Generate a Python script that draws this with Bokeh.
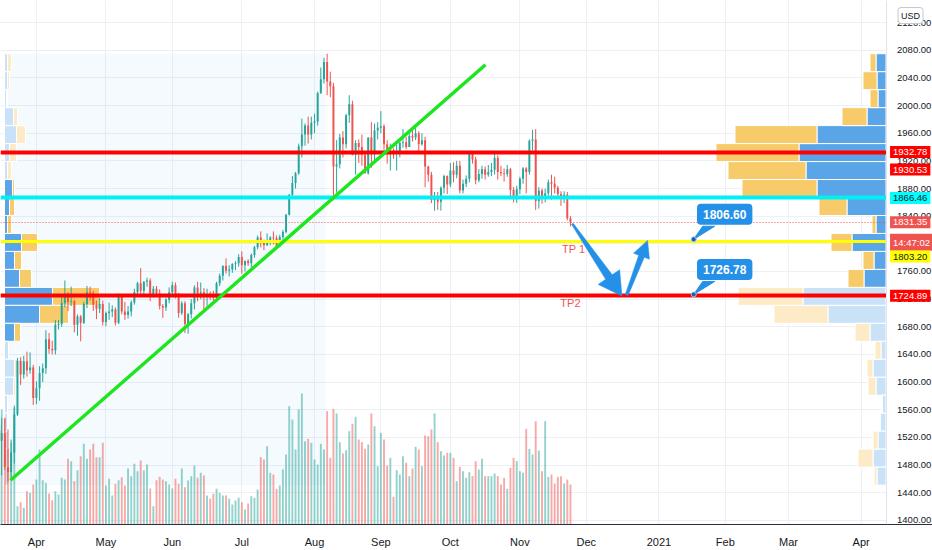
import numpy as np
import pandas as pd
from bokeh.plotting import figure
from bokeh.models import Range1d, FixedTicker, Label, PrintfTickFormatter, ColumnDataSource
from bokeh.embed import file_html
from bokeh.resources import INLINE

# ---------------- DATA (XAUUSD daily, 16 Mar 2020 - 24 Nov 2020) ----------------
open_ = [
    # Mar
    1530, 1515, 1526, 1477, 1470, 1498, 1553, 1631, 1611, 1630, 1617, 1621,
    # Apr
    1577, 1591, 1613, 1620, 1662, 1648, 1646, 1683, 1684, 1714, 1727, 1716, 1717, 1683, 1695, 1686, 1713, 1730, 1728, 1712, 1706, 1713,
    # May
    1687, 1700, 1702, 1705, 1686, 1725, 1702, 1697, 1702, 1715, 1730, 1743, 1732, 1745, 1747, 1726, 1735, 1728, 1710, 1708, 1719,
    # Jun
    1730, 1740, 1727, 1700, 1714, 1684, 1698, 1714, 1737, 1728, 1730, 1725, 1727, 1726, 1722, 1743, 1754, 1768, 1761, 1763, 1771, 1772,
    # Jul
    1781, 1769, 1775, 1772, 1784, 1795, 1809, 1803, 1798, 1802, 1809, 1808, 1796, 1810, 1817, 1842, 1871, 1888, 1902, 1941, 1958, 1971, 1958,
    # Aug
    1975, 1977, 2018, 2038, 2063, 2035, 2028, 1912, 1915, 1954, 1944, 1986, 2002, 1929, 1946, 1940, 1929, 1902, 1954, 1930, 1964,
    # Sep
    1968, 1970, 1944, 1931, 1933, 1931, 1932, 1946, 1947, 1940, 1956, 1954, 1960, 1944, 1950, 1912, 1900, 1863, 1868, 1861, 1881, 1898,
    # Oct
    1886, 1906, 1900, 1913, 1877, 1887, 1894, 1930, 1922, 1892, 1901, 1908, 1900, 1904, 1907, 1924, 1904, 1902, 1901, 1908, 1878, 1867,
    # Nov
    1879, 1894, 1909, 1904, 1949, 1951, 1862, 1877, 1866, 1873, 1889, 1887, 1881, 1872, 1866, 1871, 1837,
]
high = [
    1575, 1548, 1547, 1504, 1517, 1566, 1635, 1636, 1638, 1644, 1643, 1625,
    1601, 1623, 1627, 1675, 1671, 1660, 1690, 1690, 1725, 1747, 1730, 1738, 1719, 1698, 1697, 1716, 1739, 1738, 1732, 1718, 1722, 1718,
    1702, 1715, 1711, 1708, 1728, 1727, 1716, 1710, 1718, 1735, 1745, 1765, 1746, 1751, 1750, 1739, 1739, 1734, 1713, 1722, 1737,
    1745, 1744, 1729, 1717, 1717, 1700, 1720, 1740, 1745, 1744, 1736, 1735, 1731, 1732, 1745, 1757, 1769, 1779, 1769, 1772, 1775, 1785,
    1789, 1776, 1778, 1786, 1797, 1812, 1818, 1806, 1815, 1811, 1818, 1812, 1813, 1820, 1843, 1872, 1898, 1904, 1945, 1981, 1974, 1984, 1984,
    1988, 2020, 2055, 2069, 2075, 2049, 2033, 1950, 1959, 1963, 1988, 2015, 2007, 1950, 1951, 1958, 1933, 1954, 1976, 1974, 1976,
    1992, 1973, 1950, 1945, 1938, 1943, 1952, 1966, 1955, 1960, 1966, 1973, 1963, 1960, 1955, 1913, 1904, 1875, 1875, 1883, 1900, 1899,
    1917, 1918, 1920, 1920, 1893, 1899, 1933, 1932, 1926, 1908, 1913, 1912, 1914, 1917, 1931, 1928, 1913, 1909, 1914, 1910, 1882, 1884,
    1897, 1911, 1911, 1951, 1965, 1966, 1882, 1880, 1880, 1893, 1900, 1897, 1884, 1876, 1876, 1875, 1840,
]
low = [
    1451, 1465, 1473, 1456, 1462, 1482, 1551, 1596, 1605, 1608, 1612, 1567,
    1568, 1573, 1600, 1612, 1641, 1640, 1640, 1676, 1680, 1708, 1703, 1710, 1672, 1667, 1659, 1684, 1707, 1718, 1703, 1691, 1700, 1682,
    1681, 1690, 1694, 1682, 1684, 1698, 1690, 1692, 1695, 1712, 1727, 1726, 1726, 1738, 1717, 1722, 1724, 1705, 1693, 1703, 1714,
    1725, 1721, 1693, 1697, 1671, 1670, 1692, 1705, 1717, 1720, 1704, 1709, 1719, 1715, 1719, 1739, 1747, 1757, 1753, 1758, 1762, 1767,
    1757, 1760, 1768, 1761, 1780, 1792, 1795, 1791, 1797, 1798, 1799, 1795, 1795, 1806, 1815, 1841, 1865, 1880, 1900, 1925, 1942, 1945, 1951,
    1960, 1971, 2017, 2032, 2015, 2012, 1863, 1874, 1909, 1925, 1938, 1975, 1928, 1900, 1917, 1913, 1902, 1900, 1910, 1920, 1951,
    1960, 1936, 1916, 1906, 1923, 1906, 1925, 1939, 1937, 1940, 1948, 1950, 1931, 1942, 1882, 1890, 1859, 1848, 1849, 1848, 1873, 1872,
    1882, 1889, 1895, 1873, 1873, 1882, 1889, 1916, 1886, 1889, 1894, 1893, 1897, 1898, 1900, 1893, 1898, 1890, 1897, 1869, 1860, 1859,
    1872, 1887, 1873, 1900, 1935, 1849, 1851, 1858, 1860, 1870, 1864, 1873, 1865, 1855, 1859, 1834, 1825,
]
close = [
    1515, 1526, 1477, 1470, 1498, 1553, 1631, 1611, 1630, 1617, 1621, 1577,
    1591, 1613, 1620, 1662, 1648, 1646, 1683, 1684, 1714, 1727, 1716, 1717, 1683, 1695, 1686, 1713, 1730, 1728, 1712, 1706, 1713, 1687,
    1700, 1702, 1705, 1686, 1725, 1702, 1697, 1702, 1715, 1730, 1743, 1732, 1745, 1747, 1726, 1735, 1728, 1710, 1708, 1719, 1730,
    1740, 1727, 1700, 1714, 1684, 1698, 1714, 1737, 1728, 1730, 1725, 1727, 1726, 1722, 1743, 1754, 1768, 1761, 1763, 1771, 1772, 1781,
    1769, 1775, 1772, 1784, 1795, 1809, 1803, 1798, 1802, 1809, 1808, 1796, 1810, 1817, 1842, 1871, 1888, 1902, 1941, 1958, 1971, 1958, 1975,
    1977, 2018, 2038, 2063, 2035, 2028, 1912, 1915, 1954, 1944, 1986, 2002, 1929, 1946, 1940, 1929, 1902, 1954, 1930, 1964, 1968,
    1970, 1944, 1931, 1933, 1931, 1932, 1946, 1947, 1940, 1956, 1954, 1960, 1944, 1950, 1912, 1900, 1863, 1868, 1861, 1881, 1898, 1886,
    1906, 1900, 1913, 1877, 1887, 1894, 1930, 1922, 1892, 1901, 1908, 1900, 1904, 1907, 1924, 1904, 1902, 1901, 1908, 1878, 1867, 1879,
    1894, 1909, 1904, 1949, 1951, 1862, 1877, 1866, 1873, 1889, 1887, 1881, 1872, 1866, 1871, 1837, 1831,
]
volume = [
    300, 345, 320, 285, 245, 350, 55, 67, 50, 100, 95, 120,
    135, 225, 133, 125, 93, 73, 100, 90, 140, 135, 197, 190, 130, 163, 205, 242, 197, 225, 242, 202, 202, 245,
    117, 137, 87, 122, 133, 142, 117, 168, 145, 182, 160, 192, 162, 180, 108, 55, 133, 143, 135, 130, 120,
    108, 137, 122, 168, 112, 132, 145, 177, 140, 155, 147, 87, 77, 92, 107, 95, 87, 87, 77, 60, 72, 80,
    67, 45, 63, 85, 80, 105, 202, 195, 235, 155, 150, 107, 117, 165, 210, 355, 315, 225, 345, 393, 250, 257, 245,
    195, 180, 242, 225, 340, 200, 347, 333, 247, 213, 223, 280, 302, 323, 255, 247, 227, 240, 333, 295, 175,
    275, 255, 177, 200, 83, 163, 150, 205, 185, 145, 168, 233, 225, 175, 267, 265, 285, 333, 247, 220, 207, 215,
    215, 200, 130, 173, 160, 140, 157, 145, 190, 165, 197, 145, 145, 145, 153, 145, 120, 140, 107, 170, 200, 190,
    160, 155, 287, 227, 210, 310, 222, 160, 310, 143, 150, 123, 143, 145, 123, 135, 120,
]

# time axis labels (first trading day of each month)
month_labels = ["Apr", "May", "Jun", "Jul", "Aug", "Sep", "Oct", "Nov", "Dec", "2021", "Feb", "Mar", "Apr"]
first_day = "2020-03-16"

# price axis ticks
price_ticks = list(range(1400, 2121, 40))

# volume profile rows (top row first), 24 rows of 26 USD from 2075 down to 1451
prof_top = 2075.0
prof_step = 26.0
right_up = [10, 9, 8, 19, 69, 87, 80, 69, 39, 10, 34, 12, 22, 83, 58, 16, 5, 13, 10, 4, 6, 8, 13, 9]
right_down = [6, 14, 8, 25, 82, 83, 78, 75, 28, 4, 21, 11, 16, 65, 54, 15, 6, 6, 8, 0, 0, 5, 15, 3]
right_in_va = [1] * 13 + [0] * 11
left_up = [3, 3, 2, 9, 12, 5, 3, 8, 5, 3, 17, 10, 15, 48, 35, 10, 4, 10, 9, 3, 3, 4, 3, 4]
left_down = [4, 2, 1, 4, 9, 7, 4, 2, 5, 4, 16, 7, 12, 47, 29, 6, 0, 3, 2, 0, 1, 1, 1, 2]
left_in_va = [0] * 7 + [1] * 9 + [0] * 8
session_bars = [1.9, 103.5]          # bar range of the left session profile
session_prices = [1451.0, 2075.0]

# horizontal levels
level_prices = [1932.78, 1866.46, 1803.20, 1724.89]
level_colors = ["#ff0000", "#00f0f5", "#ffff00", "#ff0000"]
level_widths = [4, 4, 3, 4]
last_price = 1831.35

# trend line (bar index, price)
trend_bars = [3.8, 154.1]
trend_prices = [1458.0, 2059.0]

# projected path arrows (bar index, price)
arrow_from = [(181.6, 1829.0), (198.8, 1726.0)]
arrow_to = [(197.3, 1724.5), (205.4, 1805.0)]

# callouts
callout_bar = 220.0
callout_prices = [1806.60, 1726.78]
callout_texts = ["1806.60", "1726.78"]

# target labels
tp_texts = ["TP 1", "TP2"]
tp_bars = [182.0, 181.0]
tp_prices = [1793.0, 1715.0]

# price-scale tags
tag_texts = ["1932.78", "1930.53", "1866.46", "1831.35", "14:47:02", "1803.20", "1724.89"]
tag_prices = [1932.78, 1930.53, 1866.46, 1831.35, 1831.35, 1803.20, 1724.89]
tag_shift = [0, -16, 0, 0, -20, -15, 0]
tag_bg = ["#ff0000", "#ff0000", "#00ffff", "#ef5350", "#ef5350", "#ffff00", "#ff0000"]
tag_fg = ["#ffffff", "#ffffff", "#131722", "#ffffff", "#ffffff", "#131722", "#ffffff"]

# ---------------- BUILD ----------------
n = min(len(open_), len(high), len(low), len(close), len(volume))
o = np.array(open_[:n], float)
h = np.array(high[:n], float)
l = np.array(low[:n], float)
c = np.array(close[:n], float)
v = np.array(volume[:n], float)
idx = np.arange(n)

GREEN = "#26a69a"
RED = "#ef5350"
up = c >= o
ccol = [GREEN if u else RED for u in up]

cal = pd.bdate_range(first_day, "2021-04-30")
month_starts = pd.date_range("2020-04-01", "2021-04-01", freq="MS")
month_idx = [int(np.searchsorted(cal, d)) for d in month_starts]

X0, X1 = 0.633, 295.57      # visible bars (incl. price-scale strip)
AXIS_X = 280.87             # where the price scale sits
Y0, Y1 = 1394.0, 2152.0
FONT = "Liberation Sans, Arial, sans-serif"
TXT = "#131722"

p = figure(width=932, height=550, x_range=Range1d(X0, X1), y_range=Range1d(Y0, Y1),
           y_axis_location="right", output_backend="svg", toolbar_location=None,
           min_border=0, outline_line_color=None,
           background_fill_color="white", border_fill_color="white")

p.extra_y_ranges = {"vol": Range1d(0, 1572)}
p.extra_x_ranges = {"vpl": Range1d(-4, 928), "vpr": Range1d(885.5, -46.5)}

# axes
p.yaxis.fixed_location = AXIS_X
p.yaxis.ticker = FixedTicker(ticks=price_ticks)
p.yaxis.formatter = PrintfTickFormatter(format="%.2f")
p.yaxis.major_label_text_font = FONT
p.yaxis.major_label_text_font_size = "9.5px"
p.yaxis.major_label_text_color = TXT
p.yaxis.major_label_standoff = 5
p.yaxis.major_tick_line_color = None
p.yaxis.minor_tick_line_color = None
p.yaxis.axis_line_color = "#e0e3eb"

p.xaxis.ticker = FixedTicker(ticks=month_idx)
p.xaxis.major_label_overrides = {int(k): lab for k, lab in zip(month_idx, month_labels)}
p.xaxis.major_label_text_font = FONT
p.xaxis.major_label_text_font_size = "11px"
p.xaxis.major_label_text_color = TXT
p.xaxis.major_label_standoff = 5
p.xaxis.major_tick_line_color = None
p.xaxis.minor_tick_line_color = None
p.xaxis.axis_line_color = "#2a2e39"
p.xaxis.axis_line_width = 1

p.xgrid.grid_line_color = "#eef0f5"
p.ygrid.grid_line_color = "#eef0f5"

# session background
p.quad(left=[session_bars[0]], right=[session_bars[1]], bottom=[session_prices[0]], top=[session_prices[1]],
       fill_color="#2196f3", fill_alpha=0.05, line_color=None)

# volume profiles
rows = np.arange(24)
row_top = prof_top - prof_step * rows
row_bot = row_top - prof_step

def profile(ups, downs, va, xr):
    ups = np.array(ups, float); downs = np.array(downs, float)
    va = np.array(va, bool)
    ucol = ["#5aa5e8" if a else "#c9e2f8" for a in va]
    dcol = ["#f7cb6a" if a else "#fcebc6" for a in va]
    p.quad(left=np.zeros(24), right=ups, bottom=row_bot, top=row_top, fill_color=ucol,
           line_color="white", line_width=1, x_range_name=xr)
    p.quad(left=ups, right=ups + downs, bottom=row_bot, top=row_top, fill_color=dcol,
           line_color="white", line_width=1, x_range_name=xr)

profile(left_up, left_down, left_in_va, "vpl")
profile(right_up, right_down, right_in_va, "vpr")

# volume bars
p.vbar(x=idx, top=v, bottom=0, width=0.6, fill_color=ccol, fill_alpha=0.5, line_color=None,
       y_range_name="vol")

# candles
src = ColumnDataSource(dict(x=idx, hi=h, lo=l, top=np.maximum(o, c), bot=np.minimum(o, c), col=ccol))
p.segment(x0="x", y0="lo", x1="x", y1="hi", line_color="col", line_width=1, source=src)
p.vbar(x="x", top="top", bottom="bot", width=0.62, fill_color="col", line_color=None, source=src)

# horizontal levels
p.hspan(y=[last_price], line_color=RED, line_width=1, line_dash="1 2")
for pr, col, w in zip(level_prices, level_colors, level_widths):
    p.hspan(y=[pr], line_color=col, line_width=w)

# trend line
p.line(trend_bars, trend_prices, line_color="#1ee61e", line_width=3.5)

# arrows
SX, SY = 3.16, 0.691   # approx px per bar / per USD in this frame

def arrow_poly(a, b, w0, w1, hl, hw):
    ax, ay = a[0] * SX, a[1] * SY
    bx, by = b[0] * SX, b[1] * SY
    dx, dy = bx - ax, by - ay
    L = np.hypot(dx, dy)
    ux, uy = dx / L, dy / L
    nx, ny = -uy, ux
    hx, hy = bx - ux * hl, by - uy * hl
    pts = [(ax + nx * w0 / 2, ay + ny * w0 / 2), (hx + nx * w1 / 2, hy + ny * w1 / 2),
           (hx + nx * hw / 2, hy + ny * hw / 2), (bx, by),
           (hx - nx * hw / 2, hy - ny * hw / 2), (hx - nx * w1 / 2, hy - ny * w1 / 2),
           (ax - nx * w0 / 2, ay - ny * w0 / 2)]
    return [q[0] / SX for q in pts], [q[1] / SY for q in pts]

shapes = [(2, 8, 23, 26), (3, 6, 17, 17)]
axs, ays = [], []
for a, b, s in zip(arrow_from, arrow_to, shapes):
    xs, ys = arrow_poly(a, b, *s)
    axs.append(xs); ays.append(ys)
p.patches(axs, ays, fill_color="#2590e8", line_color="#2590e8", line_width=0.5)

# callouts
BLUE = "#2590e8"
for pr, t in zip(callout_prices, callout_texts):
    tx = [callout_bar, callout_bar + 9 / SX, callout_bar + 21 / SX]
    ty = [pr, pr + 13 / SY, pr + 13 / SY]
    p.patch(tx, ty, fill_color=BLUE, line_color=BLUE)
    p.scatter([callout_bar], [pr], size=5, fill_color="#1a5fa8", line_color="#9cc8f0", line_width=1)
    p.add_layout(Label(x=callout_bar, y=pr, x_offset=31, y_offset=25, text=t, text_align="center",
                       text_baseline="middle", text_color="white", text_font_style="bold",
                       text_font_size="12px", text_font=FONT,
                       background_fill_color=BLUE, border_line_color=None, padding=6, border_radius=4))

# white strip behind the price scale
p.quad(left=[AXIS_X], right=[X1], bottom=[Y0], top=[Y1], fill_color="white", line_color=None)

# TP labels
for t, bx, pr in zip(tp_texts, tp_bars, tp_prices):
    p.add_layout(Label(x=bx, y=pr, text=t, text_align="center", text_baseline="middle",
                       text_color="#ef5350", text_font_size="11px", text_font=FONT))

# price-scale tags
for t, pr, sh, bg, fg in zip(tag_texts, tag_prices, tag_shift, tag_bg, tag_fg):
    p.add_layout(Label(x=AXIS_X, y=pr, x_offset=4, y_offset=sh, text=t, text_align="left",
                       text_baseline="middle", text_color=fg, text_font_size="9.5px", text_font=FONT,
                       background_fill_color=bg, border_line_color=None, padding=3))

p.add_layout(Label(x=AXIS_X, y=Y1, x_offset=12, y_offset=-15, text="USD", text_align="left",
                   text_baseline="middle", text_color=TXT, text_font_size="9px",
                   text_font=FONT, background_fill_color="white",
                   border_line_color="#c5c8d0", padding=3, border_radius=3))

open("out.html", "w").write(file_html(p, INLINE))
